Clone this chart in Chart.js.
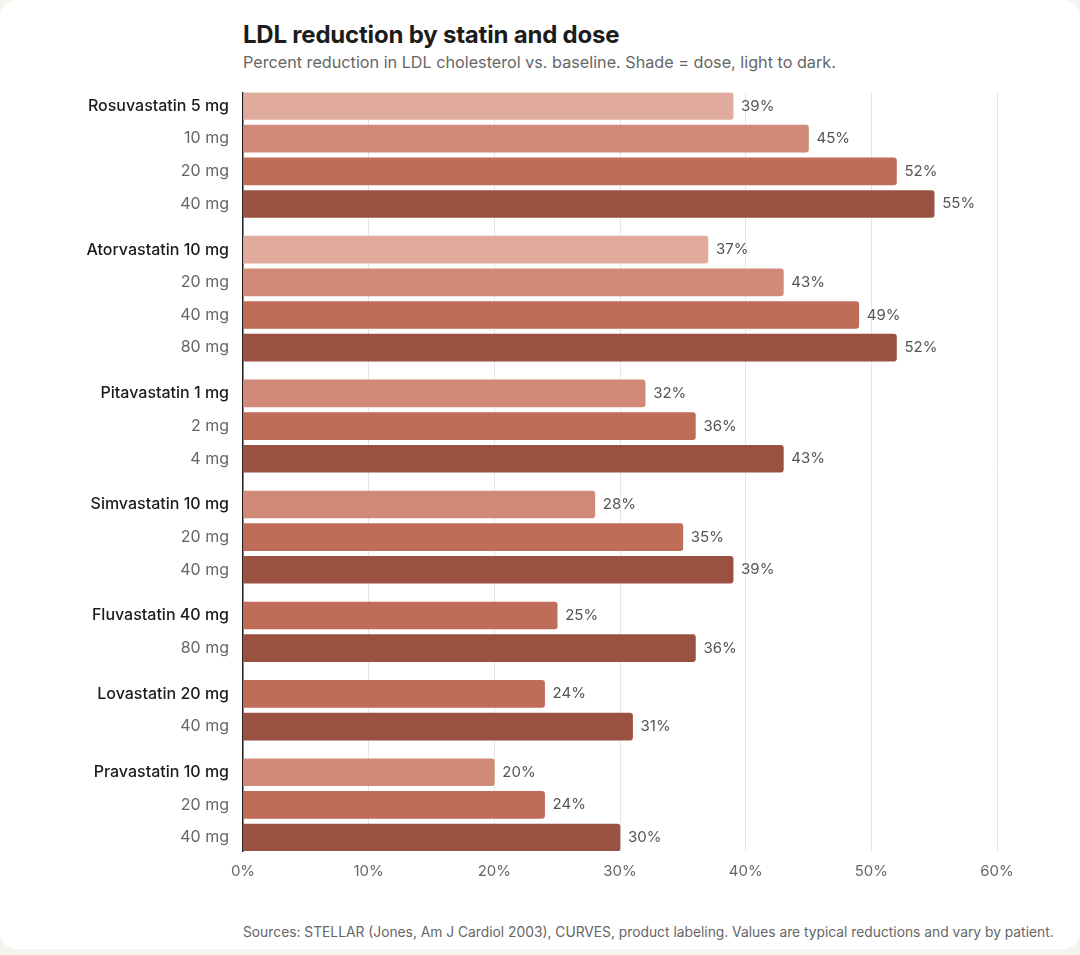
<!DOCTYPE html>
<html>
<head>
<meta charset="utf-8">
<script src="https://cdn.jsdelivr.net/npm/chart.js@4"></script>
<style>
  html, body { margin: 0; padding: 0; }
  body { width: 1080px; height: 955px; background: #f6f4ee; font-family: Inter, "Noto Sans", sans-serif; overflow: hidden; }
  .card { position: absolute; left: 0; top: 0; width: 1080px; height: 949px; background: #fff; border-radius: 16px; }
  .title { position: absolute; left: 243px; top: 20px; font-size: 24px; font-weight: 700; color: #1c1c1c; letter-spacing: -0.2px; }
  .subtitle { position: absolute; left: 243px; top: 52px; font-size: 16.2px; color: #666; }
  .source { position: absolute; left: 243px; top: 924px; font-size: 13.8px; color: #666; }
  .chartBox { position: absolute; left: 0; top: 69px; width: 1080px; height: 821px; }
</style>
</head>
<body>
<div class="card">
  <div class="title">LDL reduction by statin and dose</div>
  <div class="subtitle">Percent reduction in LDL cholesterol vs. baseline. Shade = dose, light to dark.</div>
  <div class="chartBox"><canvas id="statinChart"></canvas></div>
  <div class="source">Sources: STELLAR (Jones, Am J Cardiol 2003), CURVES, product labeling. Values are typical reductions and vary by patient.</div>
</div>
<script>
const statins = ['Rosuvastatin', 'Atorvastatin', 'Pitavastatin', 'Simvastatin', 'Fluvastatin', 'Lovastatin', 'Pravastatin'];
const doses = [[5, 10, 20, 40], [10, 20, 40, 80], [1, 2, 4], [10, 20, 40], [40, 80], [20, 40], [10, 20, 40]];
const reductions = [[39, 45, 52, 55], [37, 43, 49, 52], [32, 36, 43], [28, 35, 39], [25, 36], [24, 31], [20, 24, 30]];
const xTicks = [0, 10, 20, 30, 40, 50, 60];
const shades = ['#e0ab9c', '#d08a77', '#bf6d58', '#9a5140'];

const groupGap = 0.4;

// flatten groups into rows on a linear index axis, with a small gap between statins
const rows = [];
let pos = 0;
statins.forEach((name, g) => {
  const n = doses[g].length;
  doses[g].forEach((d, i) => {
    rows.push({
      pos: pos,
      value: reductions[g][i],
      label: i === 0 ? `${name} ${d} mg` : `${d} mg`,
      first: i === 0,
      color: shades[4 - (n - i)]
    });
    pos += 1;
  });
  pos += groupGap;
});
const lastPos = rows[rows.length - 1].pos;

const valueLabels = {
  id: 'valueLabels',
  afterDatasetsDraw(chart) {
    const ctx = chart.ctx;
    const meta = chart.getDatasetMeta(0);
    ctx.save();
    ctx.font = '15px Inter, "Noto Sans", sans-serif';
    ctx.fillStyle = '#555';
    ctx.textAlign = 'left';
    ctx.textBaseline = 'middle';
    meta.data.forEach((bar, i) => {
      ctx.fillText(rows[i].value + '%', bar.x + 8, bar.y);
    });
    ctx.restore();
  }
};

new Chart(document.getElementById('statinChart'), {
  type: 'bar',
  data: {
    datasets: [{
      data: rows.map(r => ({ x: r.value, y: r.pos })),
      backgroundColor: rows.map(r => r.color),
      barThickness: 27,
      borderRadius: 3,
      borderSkipped: 'start'
    }]
  },
  options: {
    indexAxis: 'y',
    responsive: true,
    maintainAspectRatio: false,
    animation: false,
    layout: { padding: { top: 0, right: 83, bottom: 9, left: 0 } },
    plugins: {
      legend: { display: false },
      tooltip: { enabled: false }
    },
    scales: {
      x: {
        type: 'linear',
        min: 0,
        max: 60,
        afterBuildTicks: scale => { scale.ticks = xTicks.map(v => ({ value: v })); },
        afterFit: scale => { scale.height = 30; },
        grid: { color: '#e6e6e6', lineWidth: 1, drawTicks: false },
        border: { display: false },
        ticks: {
          padding: 11,
          color: '#666',
          font: { family: 'Inter, "Noto Sans", sans-serif', size: 15 },
          callback: v => v + '%'
        }
      },
      y: {
        type: 'linear',
        reverse: true,
        offset: false,
        min: -0.41,
        max: lastPos + 0.41,
        afterBuildTicks: scale => { scale.ticks = rows.map(r => ({ value: r.pos })); },
        afterFit: scale => { scale.width = 243; },
        grid: { display: false, drawTicks: false },
        border: { display: true, color: '#222', width: 1.5 },
        ticks: {
          autoSkip: false,
          padding: 14,
          color: ctx => (rows[ctx.index] && rows[ctx.index].first) ? '#1c1c1c' : '#666',
          font: ctx => ({
            family: 'Inter, "Noto Sans", sans-serif',
            size: 16,
            weight: (rows[ctx.index] && rows[ctx.index].first) ? '500' : '400'
          }),
          callback: (v, i) => rows[i] ? rows[i].label : ''
        }
      }
    }
  },
  plugins: [valueLabels]
});
</script>
</body>
</html>
